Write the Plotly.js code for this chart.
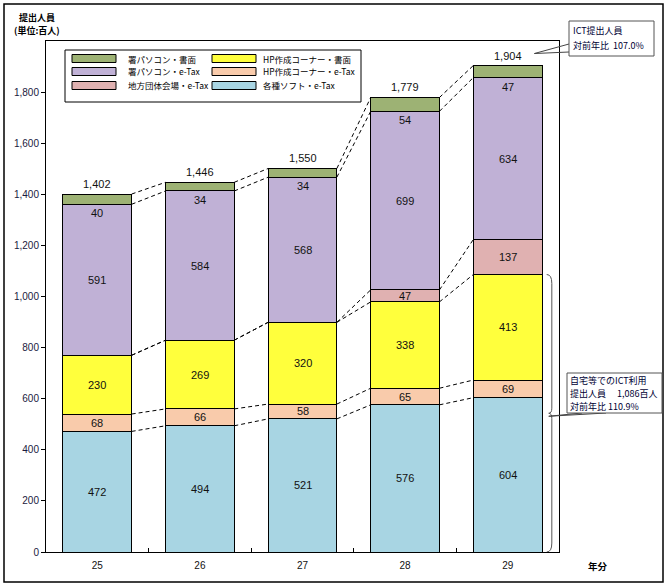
<!DOCTYPE html>
<html><head><meta charset="utf-8">
<script src="https://cdn.plot.ly/plotly-3.0.1.min.js"></script>
<style>html,body{margin:0;padding:0;background:#fff}</style>
</head><body>
<div id="chart" style="width:669px;height:588px"></div>
<script>
// ---- data ----
const years = ['25','26','27','28','29'];
const seriesNames = ['各種ソフト・e-Tax','HP作成コーナー・e-Tax','HP作成コーナー・書面','地方団体会場・e-Tax','署パソコン・e-Tax','署パソコン・書面'];
const soft     = [472, 494, 521, 576, 604];
const hpTax    = [68, 66, 58, 65, 69];
const hpPaper  = [230, 269, 320, 338, 413];
const localTax = [0, 0, 0, 47, 137];
const pcTax    = [591, 584, 568, 699, 634];
const pcPaper  = [40, 34, 34, 54, 47];
const totals   = [1402, 1446, 1550, 1779, 1904];
const yTicks   = [0, 200, 400, 600, 800, 1000, 1200, 1400, 1600, 1800];
const ictTotal = 1086, ictRatio = '110.9%', allRatio = '107.0%';

// ---- styling ----
const colors = ['#a8d5e3', '#f9cbab', '#ffff3c', '#e0b1b1', '#c0b1d6', '#9db274'];
const legendOrder = [5, 2, 4, 1, 3, 0]; // row-wise: col1/col2
const W = 0.67;
const L = 46, R = 559, T = 41, B = 552;
const px = x => (x - L) / (R - L);
const py = y => (B - y) / (B - T);
const dataPx = x => L + (x + 0.5) * (R - L) / 5;
const dataPy = y => B - y * (B - T) / 2000;
const series = [soft, hpTax, hpPaper, localTax, pcTax, pcPaper];
const xs = years.map((_, i) => i);
const jp = 'Noto Sans CJK JP, sans-serif';
const num = 'Liberation Sans, Arial, sans-serif';

const traces = series.map((s, k) => ({
  type: 'bar', x: xs, y: s, name: seriesNames[k], width: W,
  marker: {color: colors[k], line: {color: '#000', width: 1}},
  hoverinfo: 'name+y', showlegend: false
}));

// cumulative levels
const cum = xs.map(i => { let c = 0; return series.map(s => (c += s[i])); });

// dashed connectors
const lx = [], ly = [];
for (let i = 0; i < xs.length - 1; i++) {
  for (let k = 0; k < series.length; k++) {
    lx.push(i + W / 2, i + 1 - W / 2, null);
    ly.push(cum[i][k], cum[i + 1][k], null);
  }
}
traces.push({type: 'scatter', mode: 'lines', x: lx, y: ly, hoverinfo: 'skip', showlegend: false,
  line: {color: '#000', width: 1, dash: '4px,3px'}});

const ann = [];
const shapes = [];
// value labels
xs.forEach(i => {
  let base = 0;
  series.forEach((s, k) => {
    const v = s[i];
    if (v > 0 && k < 5) {
      ann.push({x: i, y: base + v / 2, text: String(v), showarrow: false,
        font: {family: num, size: 11, color: '#111'}});
    }
    if (k === 5) {
      ann.push({x: i, y: base, text: String(v), showarrow: false, yanchor: 'top', yshift: -1,
        font: {family: num, size: 11, color: '#111'}});
    }
    base += v;
  });
  ann.push({x: i, y: cum[i][5], text: totals[i].toLocaleString('en-US'), showarrow: false,
    yanchor: 'bottom', yshift: 2, font: {family: num, size: 11, color: '#111'}});
});

function pText(x, y, text, size, anchor, color) {
  ann.push({xref: 'paper', yref: 'paper', x: px(x), y: py(y), xanchor: anchor || 'left', yanchor: 'middle',
    text: text, showarrow: false, borderpad: 0, font: {family: jp, size: size, color: color || '#000'}});
}

// titles
pText(18, 17, '<b>提出人員</b>', 9);
pText(13, 31, '<b>(単位:百人)</b>', 9);
pText(598, 566, '<b>年分</b>', 9.5, 'center');

// callout 1 (ICT total)
const t1x = dataPx(4.26), t1y = dataPy(totals[4]) - 12;
shapes.push({type: 'path', xref: 'paper', yref: 'paper',
  path: `M ${px(569)},${py(44)} L ${px(t1x)},${py(t1y)} L ${px(569)},${py(52)}`,
  line: {color: '#444', width: 1}});
shapes.push({type: 'rect', xref: 'paper', yref: 'paper', x0: px(569), x1: px(654), y0: py(21), y1: py(56),
  line: {color: '#555', width: 1}, fillcolor: '#fff'});
pText(572, 31, 'ICT提出人員', 9, 'left', '#000033');
pText(572, 45, '対前年比  ' + allRatio, 9, 'left', '#000033');

// bracket for ICT home use
const bx = 4.43, bx0 = 4.38, m = ictTotal / 2;
shapes.push({type: 'path', xref: 'x', yref: 'y',
  path: `M ${bx0},${ictTotal} Q ${bx},${ictTotal} ${bx},${ictTotal - 35} L ${bx},${m + 20} Q ${bx},${m} ${bx - 0.03},${m} Q ${bx},${m} ${bx},${m - 20} L ${bx},35 Q ${bx},0 ${bx0},0`,
  line: {color: '#555', width: 1}});
// callout 2 (home ICT)
const t2x = dataPx(bx - 0.03), t2y = dataPy(m);
shapes.push({type: 'path', xref: 'paper', yref: 'paper',
  path: `M ${px(582)},${py(413)} L ${px(t2x)},${py(t2y + 3)} L ${px(606)},${py(413)}`,
  line: {color: '#444', width: 1}});
shapes.push({type: 'rect', xref: 'paper', yref: 'paper', x0: px(567), x1: px(662), y0: py(373), y1: py(413),
  line: {color: '#555', width: 1}, fillcolor: '#fff'});
pText(569, 380, '自宅等でのICT利用', 9, 'left', '#000033');
pText(569, 393, '提出人員　 ' + ictTotal.toLocaleString('en-US') + '百人', 9, 'left', '#000033');
pText(569, 406, '対前年比 ' + ictRatio, 9, 'left', '#000033');

// outer frame
shapes.push({type: 'rect', xref: 'paper', yref: 'paper', x0: px(4), x1: px(663), y0: py(4), y1: py(582),
  line: {color: '#000', width: 1.5}, layer: 'below'});

// manual legend
shapes.push({type: 'rect', xref: 'paper', yref: 'paper', x0: px(65), x1: px(361), y0: py(50), y1: py(102),
  line: {color: '#000', width: 1}, fillcolor: '#fff'});
const rowsY = [58.5, 71.5, 85.5];
const colSw = [72, 212], colTx = [127, 262];
legendOrder.forEach((k, j) => {
  const r = Math.floor(j / 2), c = j % 2;
  shapes.push({type: 'rect', xref: 'paper', yref: 'paper', x0: px(colSw[c]), x1: px(colSw[c] + 44),
    y0: py(rowsY[r] - 4), y1: py(rowsY[r] + 4), line: {color: '#000', width: 1}, fillcolor: colors[k]});
  pText(colTx[c], rowsY[r], seriesNames[k], 8.5);
});

const layout = {
  width: 669, height: 588,
  margin: {l: L, r: 669 - R, t: T, b: 588 - B},
  paper_bgcolor: '#fff', plot_bgcolor: '#fff',
  barmode: 'stack', showlegend: false,
  font: {family: num, size: 10, color: '#000'},
  xaxis: {range: [-0.5, 4.5], tickmode: 'array', tickvals: xs, ticktext: years, ticks: '',
    showgrid: false, zeroline: false, showline: true, mirror: true, linecolor: '#000', linewidth: 1,
    tickfont: {family: num, size: 10, color: '#111'}, ticklabelstandoff: 4,
    minor: {tickmode: 'array', tickvals: [0.5, 1.5, 2.5, 3.5], ticks: 'inside', ticklen: 4, tickcolor: '#000'}},
  yaxis: {range: [0, 2000], tickmode: 'array', tickvals: yTicks, tickformat: ',d', ticks: 'outside', ticklen: 4,
    tickcolor: '#000', showgrid: false, zeroline: false, showline: true, mirror: true, linecolor: '#000', linewidth: 1,
    tickfont: {family: num, size: 10, color: '#1a1a40'}},
  annotations: ann, shapes: shapes
};
Plotly.newPlot('chart', traces, layout, {displayModeBar: false, staticPlot: true});
</script>
</body></html>
